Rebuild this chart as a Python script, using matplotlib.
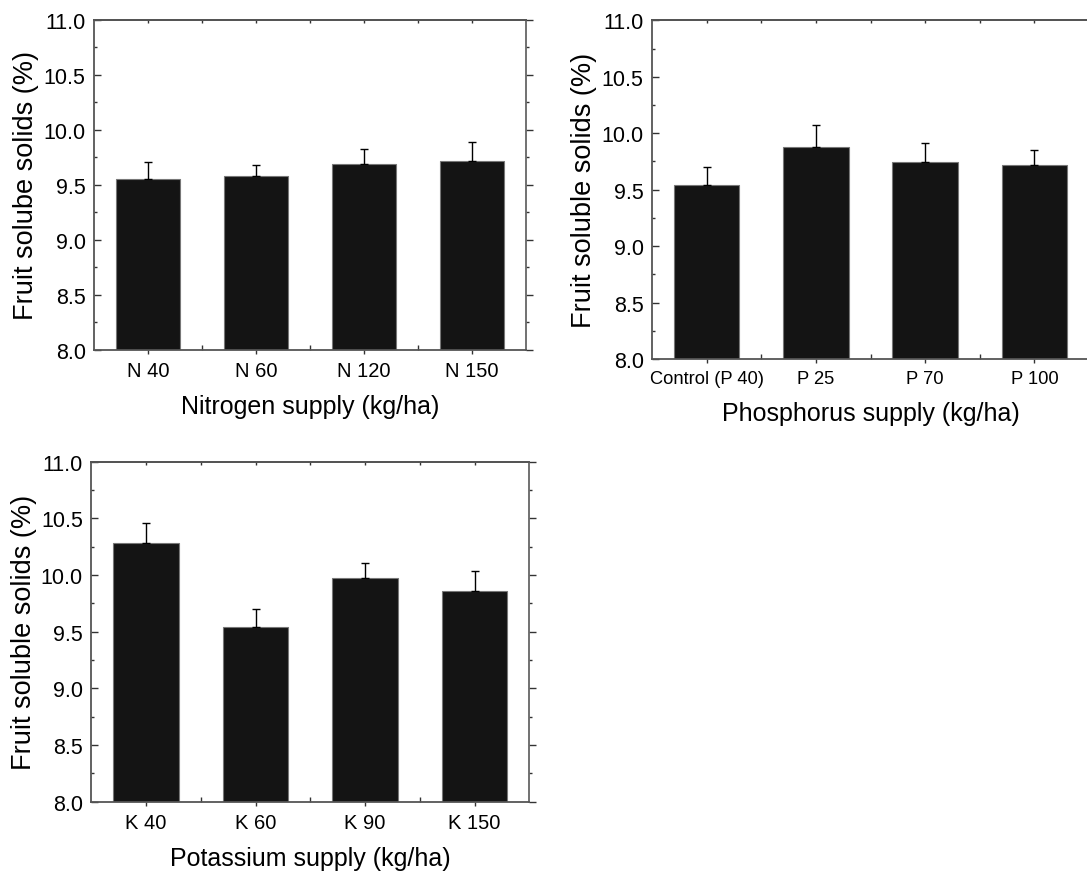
import matplotlib
matplotlib.use('Agg')
import matplotlib.pyplot as plt
from matplotlib.ticker import MultipleLocator, FixedLocator

plt.rcParams['font.family'] = ['Liberation Sans', 'DejaVu Sans']

# dati
n_labels = ['N 40', 'N 60', 'N 120', 'N 150']
n_mean = [9.55, 9.58, 9.69, 9.72]
n_err = [0.16, 0.10, 0.14, 0.17]

p_labels = ['Control (P 40)', 'P 25', 'P 70', 'P 100']
p_mean = [9.545, 9.88, 9.745, 9.715]
p_err = [0.155, 0.19, 0.165, 0.14]

k_labels = ['K 40', 'K 60', 'K 90', 'K 150']
k_mean = [10.285, 9.545, 9.97, 9.86]
k_err = [0.175, 0.155, 0.14, 0.18]

ylab = 'Fruit soluble solids (%)'

W, H = 1087, 878
fig = plt.figure(figsize=(W / 100, H / 100), dpi=100)
tc = '#333333'


def pannello(px, labels, means, errs, xlabel, ylabel, xtick_fs, hide_right=False):
    # px = (sinistra, alto, destra, basso) in pixel
    l, t, r, b = px
    ax = fig.add_axes([l / W, 1 - b / H, (r - l) / W, (b - t) / H])
    x = list(range(1, len(labels) + 1))
    ax.bar(x, means, width=0.6, color='#141414', edgecolor='#777777',
           linewidth=0.8, zorder=2)
    ax.errorbar(x, means, yerr=[[0] * len(errs), errs], fmt='none', ecolor='black',
                elinewidth=1, capsize=3, capthick=1, zorder=3)
    ax.set_xlim(0.5, len(labels) + 0.5)
    ax.set_ylim(8.0, 11.0)
    ax.yaxis.set_major_locator(MultipleLocator(0.5))
    ax.yaxis.set_minor_locator(MultipleLocator(0.25))
    ax.yaxis.set_major_formatter(matplotlib.ticker.FormatStrFormatter('%.1f'))
    ax.xaxis.set_major_locator(FixedLocator(x))
    ax.xaxis.set_minor_locator(FixedLocator([i + 0.5 for i in x[:-1]]))
    ax.set_xticklabels(labels, fontsize=xtick_fs)
    ax.tick_params(axis='y', which='major', direction='in', length=5, width=1,
                   labelsize=15.5, color=tc, pad=6)
    ax.tick_params(axis='y', which='minor', direction='in', length=2.5, width=1, color=tc)
    ax.tick_params(axis='x', which='major', direction='out', length=3, width=1,
                   color=tc, pad=5)
    ax.tick_params(axis='x', which='minor', direction='in', length=3.5, width=1, color=tc)

    # assi opposti con tacche speculari
    top = ax.secondary_xaxis('top')
    top.xaxis.set_major_locator(FixedLocator(x))
    top.xaxis.set_minor_locator(FixedLocator([i + 0.5 for i in x[:-1]]))
    top.tick_params(which='both', direction='in', length=2.5, width=1, color=tc,
                    labeltop=False)
    top.spines['top'].set_color('#444444')
    top.spines['top'].set_linewidth(1.3)
    if not hide_right:
        rt = ax.secondary_yaxis('right')
        rt.yaxis.set_major_locator(MultipleLocator(0.5))
        rt.yaxis.set_minor_locator(MultipleLocator(0.25))
        rt.tick_params(which='major', direction='out', length=5, width=1, color=tc,
                       labelright=False)
        rt.tick_params(which='minor', direction='out', length=2.5, width=1, color=tc)
        rt.spines['right'].set_color('#666666')
        rt.spines['right'].set_linewidth(1.3)

    for s in ax.spines.values():
        s.set_color('#555555')
        s.set_linewidth(1.3)
    ax.spines['right'].set_visible(False)
    ax.set_xlabel(xlabel, fontsize=18, labelpad=10)
    ax.set_ylabel(ylabel, fontsize=19.5, labelpad=3)
    return ax


pannello((94, 20.7, 526, 351), n_labels, n_mean, n_err,
         'Nitrogen supply (kg/ha)', 'Fruit solube solids (%)', 14.5)
pannello((652, 21.3, 1089, 360), p_labels, p_mean, p_err,
         'Phosphorus supply (kg/ha)', ylab, 13.2, hide_right=True)
pannello((91.3, 462.7, 529.3, 802.7), k_labels, k_mean, k_err,
         'Potassium supply (kg/ha)', ylab, 14.5)

plt.savefig('out.png', dpi=100)
